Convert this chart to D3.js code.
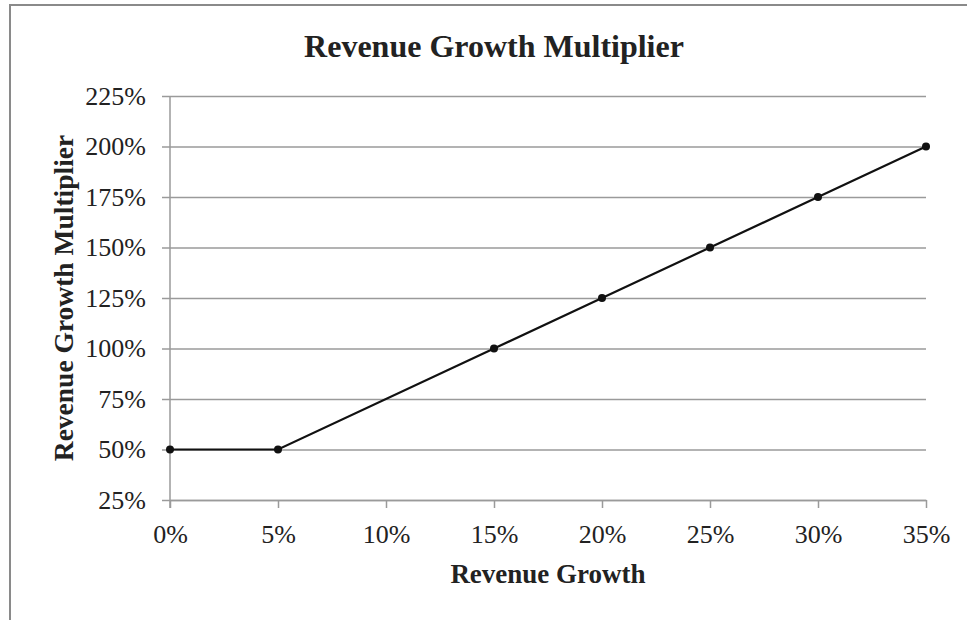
<!DOCTYPE html>
<html>
<head>
<meta charset="utf-8">
<script src="https://cdn.jsdelivr.net/npm/d3@7"></script>
<style>
  body { margin: 0; background: #fff; }
  text { font-family: "Liberation Serif", "Times New Roman", serif; fill: #222; }
</style>
</head>
<body>
<script>
// values
const growth = [0, 5, 15, 20, 25, 30, 35];
const multiplier = [50, 50, 100, 125, 150, 175, 200];
const xTicks = [0, 5, 10, 15, 20, 25, 30, 35];
const yTicks = [25, 50, 75, 100, 125, 150, 175, 200, 225];

const SCREEN = {
    width: 967,
    height: 620,
    left: 170,
    right: 41,
    top: 96,
    bottom: 120
};
SCREEN.innerWidth = SCREEN.width - SCREEN.left - SCREEN.right;
SCREEN.innerHeight = SCREEN.height - SCREEN.top - SCREEN.bottom;

const svg = d3.select('body').append('svg')
    .attr('width', SCREEN.width)
    .attr('height', SCREEN.height);

// chart frame (top and left edges only visible)
svg.append('path')
    .attr('d', `M10,${SCREEN.height} L10,5 L${SCREEN.width},5`)
    .attr('fill', 'none')
    .attr('stroke', '#8a8a8a')
    .attr('stroke-width', 2);

const x = d3.scaleLinear().domain([0, 35]).range([0, SCREEN.innerWidth]);
const y = d3.scaleLinear().domain([25, 225]).range([SCREEN.innerHeight, 0]);

const canvas = svg.append('g')
    .attr('transform', `translate(${SCREEN.left},${SCREEN.top})`);

const yAxis = d3.axisLeft(y)
    .tickValues(yTicks)
    .tickFormat(d => d + '%')
    .tickSize(-SCREEN.innerWidth)
    .tickPadding(23);

const yAxisGroup = canvas.append('g').call(yAxis);
yAxisGroup.select('.domain').remove();
yAxisGroup.selectAll('.tick line')
    .attr('x1', -8)
    .attr('stroke', '#9a9a9a')
    .attr('stroke-width', 1.5);
yAxisGroup.selectAll('.tick text')
    .attr('x', -24)
    .style('font-size', '26px')
    .style('font-family', '"Liberation Serif", serif')
    .attr('fill', '#333');

const xAxis = d3.axisBottom(x)
    .tickValues(xTicks)
    .tickFormat(d => d + '%')
    .tickSize(8)
    .tickSizeOuter(0)
    .tickPadding(20);

const xAxisGroup = canvas.append('g')
    .attr('transform', `translate(0,${SCREEN.innerHeight})`)
    .call(xAxis);
xAxisGroup.select('.domain').attr('stroke', '#9a9a9a').attr('stroke-width', 1.5);
xAxisGroup.selectAll('.tick line').attr('stroke', '#9a9a9a').attr('stroke-width', 1.5);
xAxisGroup.selectAll('.tick text')
    .attr('y', 43)
    .attr('dy', 0)
    .style('font-size', '26px')
    .style('font-family', '"Liberation Serif", serif')
    .attr('fill', '#333');

// vertical axis line, running down through the tick mark
canvas.append('line')
    .attr('x1', 0).attr('x2', 0)
    .attr('y1', 0).attr('y2', SCREEN.innerHeight + 8)
    .attr('stroke', '#9a9a9a')
    .attr('stroke-width', 1.5);

const points = growth.map((g, i) => ({ g: g, m: multiplier[i] }));

canvas.append('path')
    .datum(points)
    .attr('fill', 'none')
    .attr('stroke', '#111')
    .attr('stroke-width', 2.2)
    .attr('d', d3.line().x(d => x(d.g)).y(d => y(d.m)));

canvas.selectAll('circle').data(points)
    .enter().append('circle')
    .attr('cx', d => x(d.g))
    .attr('cy', d => y(d.m))
    .attr('r', 4)
    .attr('fill', '#111');

svg.append('text')
    .attr('x', 494)
    .attr('y', 57)
    .attr('text-anchor', 'middle')
    .style('font-size', '32px')
    .style('font-weight', 'bold')
    .text('Revenue Growth Multiplier');

svg.append('text')
    .attr('x', SCREEN.left + SCREEN.innerWidth / 2)
    .attr('y', 583)
    .attr('text-anchor', 'middle')
    .style('font-size', '27px')
    .style('font-weight', 'bold')
    .text('Revenue Growth');

svg.append('text')
    .attr('transform', `translate(73,${SCREEN.top + SCREEN.innerHeight / 2}) rotate(-90)`)
    .attr('text-anchor', 'middle')
    .style('font-size', '27.5px')
    .style('font-weight', 'bold')
    .text('Revenue Growth Multiplier');
</script>
</body>
</html>
